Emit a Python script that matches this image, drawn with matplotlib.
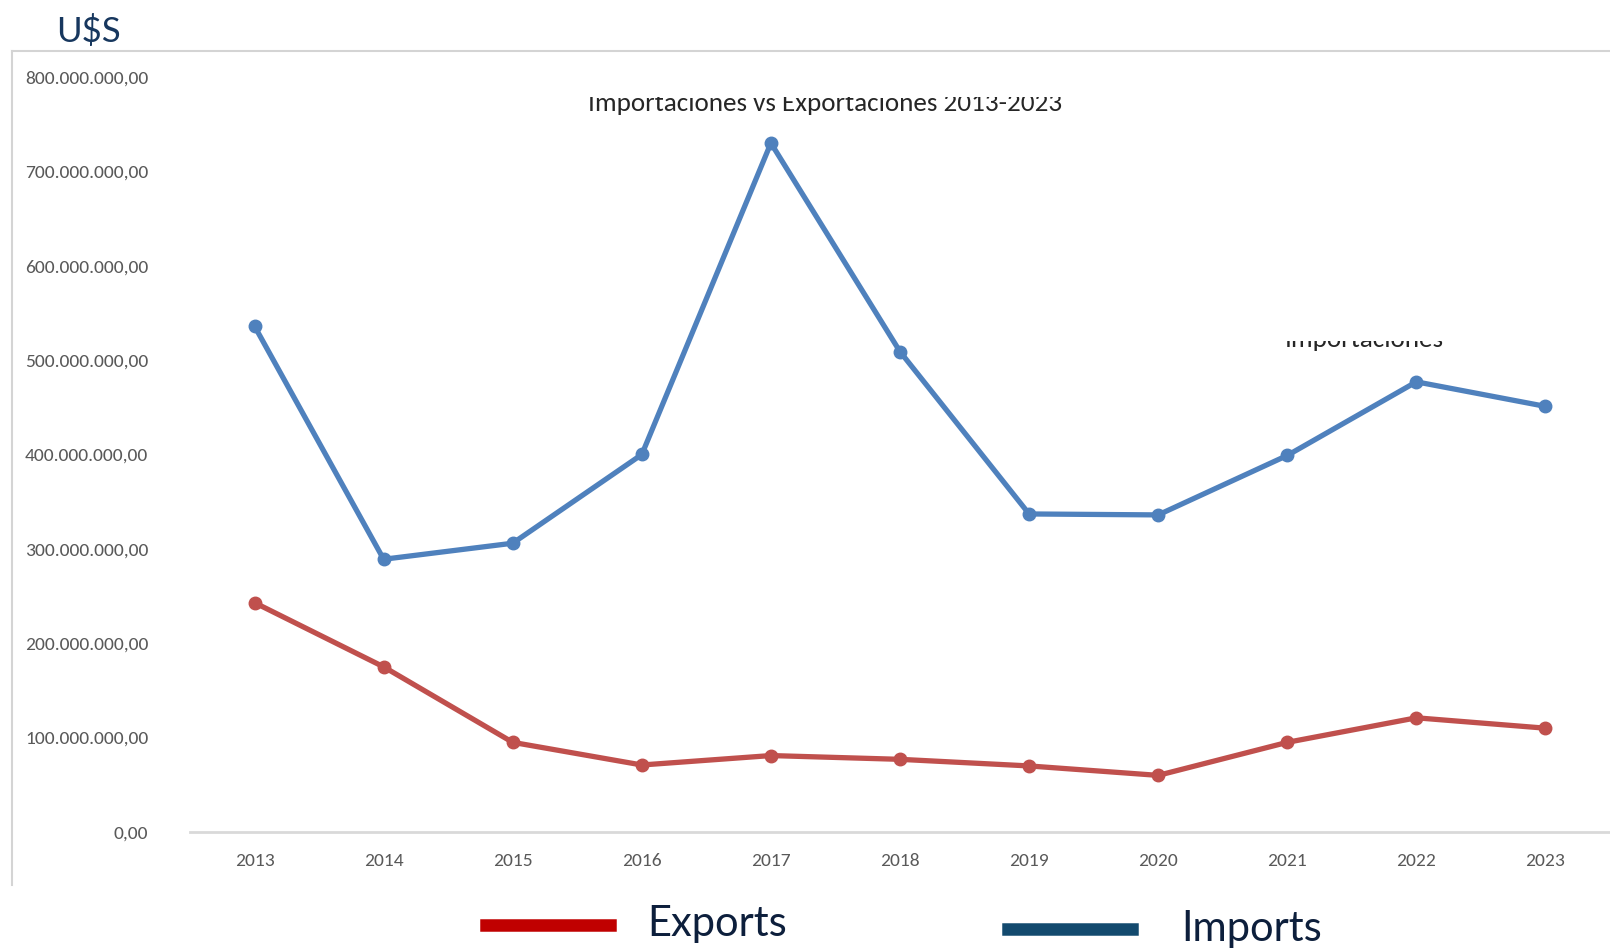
import matplotlib.pyplot as plt
from matplotlib.lines import Line2D
from matplotlib.ticker import FuncFormatter
from matplotlib.transforms import Bbox, TransformedBbox

years = ['2013', '2014', '2015', '2016', '2017', '2018', '2019', '2020', '2021', '2022', '2023']
imports = [536e6, 289e6, 306e6, 400e6, 730e6, 509e6, 337e6, 336e6, 399e6, 477e6, 451e6]
exports = [243e6, 175e6, 95e6, 71e6, 81e6, 77e6, 70e6, 60e6, 95e6, 121e6, 110e6]
yticks = [0, 100e6, 200e6, 300e6, 400e6, 500e6, 600e6, 700e6, 800e6]

W, H = 1610, 949
tick_font = ['Carlito', 'Liberation Sans', 'DejaVu Sans']
deco_font = ['Lato', 'DejaVu Sans']


def es_fmt(v, pos):
    s = f"{v:,.2f}"
    return s.replace(',', 'X').replace('.', ',').replace('X', '.')


fig = plt.figure(figsize=(W / 100, H / 100), dpi=100)
ax = fig.add_axes([190 / W, 1 - 832 / H, 1 - 190 / W, (832 - 77) / H])

x = list(range(len(years)))
ax.plot(x, imports, color='#4f81bd', lw=3.8, marker='o', ms=9, solid_capstyle='round')
ax.plot(x, exports, color='#c0504d', lw=3.8, marker='o', ms=9, solid_capstyle='round')

ax.set_xlim(-0.5, len(years) - 0.5)
ax.set_ylim(0, 800e6)
ax.set_xticks(x)
ax.set_xticklabels(years)
ax.set_yticks(yticks)
ax.yaxis.set_major_formatter(FuncFormatter(es_fmt))
ax.tick_params(axis='both', length=0, labelcolor='#595959', labelsize=14)
ax.tick_params(axis='y', pad=30)
ax.tick_params(axis='x', pad=15)
for lab in ax.get_xticklabels() + ax.get_yticklabels():
    lab.set_family(tick_font)
for side in ['top', 'right', 'left']:
    ax.spines[side].set_visible(False)
ax.spines['bottom'].set_color('#d9d9d9')
ax.spines['bottom'].set_linewidth(2)

# outer frame (left and top only)
fig.add_artist(Line2D([12 / W, 12 / W], [1 - 885 / H, 1 - 51 / H], color='#d4d4d4', lw=1.5))
fig.add_artist(Line2D([12 / W, 1], [1 - 51 / H, 1 - 51 / H], color='#d4d4d4', lw=1.5))

# title and series label, clipped at the top as in the source image
t1 = fig.text(825 / W, 1 - 111 / H, 'Importaciones vs Exportaciones 2013-2023',
              ha='center', va='baseline', fontsize=19.5, color='#262626',
              family=tick_font)
t1.set_clip_box(TransformedBbox(Bbox([[0, 0], [1, 1 - 97 / H]]), fig.transFigure))
t1.set_clip_on(True)
t2 = fig.text(1364 / W, 1 - 347 / H, 'Importaciones',
              ha='center', va='baseline', fontsize=19.5, color='#262626',
              family=tick_font)
t2.set_clip_box(TransformedBbox(Bbox([[0, 0], [1, 1 - 341 / H]]), fig.transFigure))
t2.set_clip_on(True)

fig.text(56 / W, 1 - 31 / H, 'U$S', ha='left', va='center', fontsize=25,
         color='#17375e', family=deco_font)

# legend
fig.add_artist(Line2D([486 / W, 610 / W], [1 - 925 / H, 1 - 925 / H], color='#c00000', lw=9))
fig.text(647 / W, 1 - 924 / H, 'Exports', ha='left', va='center', fontsize=30,
         color='#0d1f3c', family=deco_font)
fig.add_artist(Line2D([1008 / W, 1132 / W], [1 - 929 / H, 1 - 929 / H], color='#134a6e', lw=9))
fig.text(1181 / W, 1 - 929 / H, 'Imports', ha='left', va='center', fontsize=30,
         color='#0d1f3c', family=deco_font)

fig.savefig('out.png', dpi=100)
